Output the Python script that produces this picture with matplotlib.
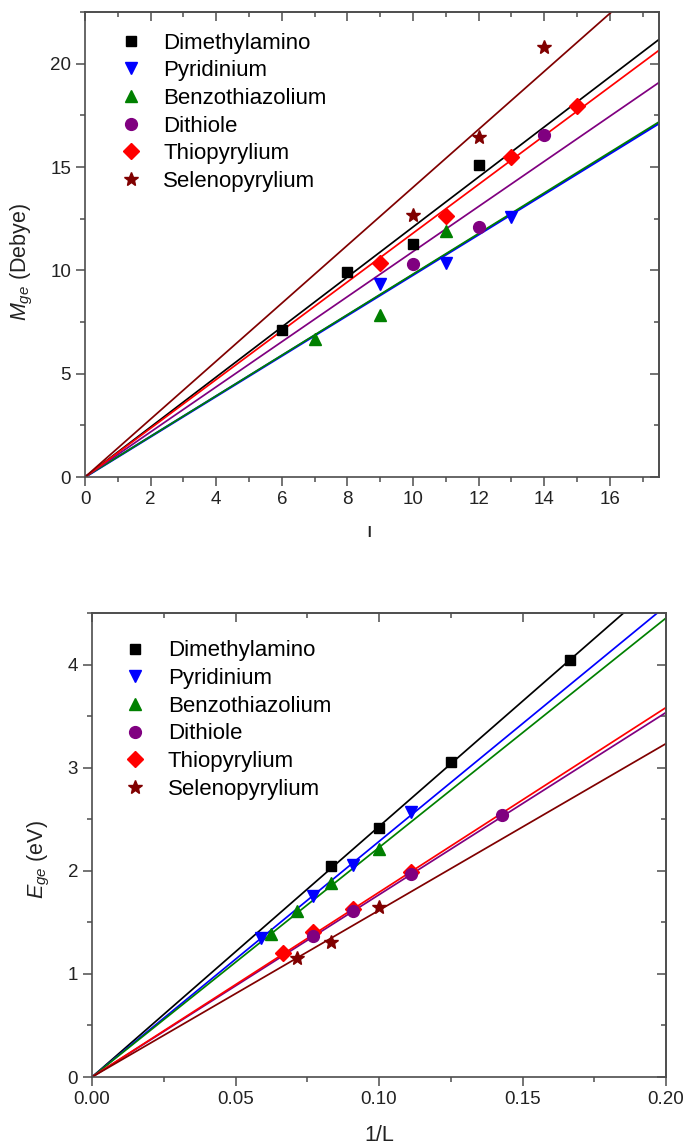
import matplotlib
matplotlib.use("Agg")
import matplotlib.pyplot as plt
import numpy as np
from matplotlib.ticker import MultipleLocator, FormatStrFormatter
from matplotlib.transforms import Bbox, TransformedBbox

plt.rcParams["font.family"] = ["Liberation Sans", "DejaVu Sans"]
plt.rcParams["mathtext.fontset"] = "custom"
plt.rcParams["mathtext.rm"] = "Liberation Sans"
plt.rcParams["mathtext.it"] = "Liberation Sans:italic"

# -- Data -------------------------------------------------------------------
names = ["Dimethylamino", "Pyridinium", "Benzothiazolium",
         "Dithiole", "Thiopyrylium", "Selenopyrylium"]
colors = ["#000000", "#0000ff", "#008000", "#800080", "#ff0000", "#800000"]
markers = ["s", "v", "^", "o", "D", "*"]
msizes = [7.5, 9, 9, 8.5, 8, 10]

# top panel: M_ge vs L
top_L = [
    [6, 8, 10, 12],
    [9, 11, 13],
    [7, 9, 11],
    [10, 12, 14],
    [9, 11, 13, 15],
    [10, 12, 14],
]
top_M = [
    [7.1, 9.9, 11.3, 15.1],
    [9.35, 10.35, 12.6],
    [6.7, 7.85, 11.9],
    [10.3, 12.1, 16.55],
    [10.35, 12.65, 15.5, 17.95],
    [12.7, 16.45, 20.8],
]
top_slopes = [1.210, 0.978, 0.982, 1.091, 1.180, 1.402]

# bottom panel: E_ge vs 1/L
bot_x = [
    [0.0833, 0.1, 0.125, 0.1667],
    [0.0588, 0.0769, 0.0909, 0.1111],
    [0.0625, 0.0714, 0.0833, 0.1],
    [0.0769, 0.0909, 0.1111, 0.1429],
    [0.0667, 0.0769, 0.0909, 0.1111],
    [0.0714, 0.0833, 0.1],
]
bot_E = [
    [2.05, 2.415, 3.055, 4.04],
    [1.35, 1.755, 2.06, 2.57],
    [1.39, 1.615, 1.88, 2.21],
    [1.37, 1.615, 1.97, 2.54],
    [1.20, 1.41, 1.63, 1.99],
    [1.15, 1.31, 1.65],
]
bot_slopes = [24.3, 22.85, 22.26, 17.68, 17.92, 16.17]

SPINE = "#4d4d4d"
TEXT = "#222222"
TICK_FS = 13.5
LABEL_FS = 15.5
LEGEND_FS = 16

fig = plt.figure(figsize=(6.85, 11.47), dpi=100)
ax1 = fig.add_axes([0.1241, 0.5841, 0.838, 0.4054])
ax2 = fig.add_axes([0.1343, 0.0610, 0.838, 0.4045])


def style_axes(ax, xmaj, xmin, ymaj, ymin):
    ax.xaxis.set_major_locator(MultipleLocator(xmaj))
    ax.xaxis.set_minor_locator(MultipleLocator(xmin))
    ax.yaxis.set_major_locator(MultipleLocator(ymaj))
    ax.yaxis.set_minor_locator(MultipleLocator(ymin))
    for sp in ax.spines.values():
        sp.set_color(SPINE)
        sp.set_linewidth(1.2)
    ax.tick_params(which="both", direction="out", color=SPINE, width=1.1,
                   labelsize=TICK_FS, labelcolor=TEXT)
    ax.tick_params(which="major", length=6.5)
    ax.tick_params(which="minor", length=3.5)
    # mirrored ticks pointing inward on top and right
    sx = ax.secondary_xaxis("top")
    sx.xaxis.set_major_locator(MultipleLocator(xmaj))
    sx.xaxis.set_minor_locator(MultipleLocator(xmin))
    sx.tick_params(which="both", direction="in", color=SPINE, width=1.1, labeltop=False)
    sx.tick_params(which="major", length=6.5)
    sx.tick_params(which="minor", length=3.5)
    sy = ax.secondary_yaxis("right")
    sy.yaxis.set_major_locator(MultipleLocator(ymaj))
    sy.yaxis.set_minor_locator(MultipleLocator(ymin))
    sy.tick_params(which="both", direction="in", color=SPINE, width=1.1, labelright=False)
    sy.tick_params(which="major", length=6.5)
    sy.tick_params(which="minor", length=3.5)
    for s in (sx, sy):
        for sp in s.spines.values():
            sp.set_color(SPINE)
            sp.set_linewidth(1.2)


# -- Top panel --------------------------------------------------------------
xmax1 = 17.5
xs = np.array([0, xmax1])
for i in range(6):
    lw = 1.7 if i == 1 else 1.25
    ax1.plot(xs, top_slopes[i] * xs, color=colors[i], lw=lw, zorder=2)
for i in range(6):
    ax1.plot(top_L[i], top_M[i], ls="none", marker=markers[i], ms=msizes[i],
             color=colors[i], label=names[i], zorder=3)
ax1.set_xlim(0, xmax1)
ax1.set_ylim(0, 22.5)
style_axes(ax1, 2, 1, 5, 2.5)
ax1.set_ylabel(r"$M_{ge}$ (Debye)", fontsize=LABEL_FS, color=TEXT)
ax1.yaxis.set_label_coords(-0.087, 0.462)
ax1.set_xlabel("L", fontsize=LABEL_FS, color=TEXT, labelpad=12.5)
# the reference image is cut just below the top of this label
clip = TransformedBbox(Bbox([[0, 1 - 537 / 1147], [1, 1]]), fig.transFigure)
ax1.xaxis.label.set_clip_box(clip)
ax1.xaxis.label.set_clip_on(True)
ax1.legend(loc="upper left", bbox_to_anchor=(0.060, 0.956), frameon=False,
           fontsize=LEGEND_FS, handlelength=1.0, handletextpad=0.96,
           labelspacing=0.30, borderpad=0, borderaxespad=0)

# -- Bottom panel -----------------------------------------------------------
xmax2 = 0.2
xs = np.array([0, xmax2])
for i in range(6):
    ax2.plot(xs, bot_slopes[i] * xs, color=colors[i], lw=1.25, zorder=2)
for i in range(6):
    z = 4 if names[i] == "Dithiole" else 3
    ax2.plot(bot_x[i], bot_E[i], ls="none", marker=markers[i], ms=msizes[i],
             color=colors[i], label=names[i], zorder=z)
ax2.set_xlim(0, xmax2)
ax2.set_ylim(0, 4.5)
style_axes(ax2, 0.05, 0.025, 1, 0.5)
ax2.xaxis.set_major_formatter(FormatStrFormatter("%.2f"))
ax2.set_ylabel(r"$E_{ge}$ (eV)", fontsize=LABEL_FS, color=TEXT)
ax2.yaxis.set_label_coords(-0.070, 0.468)
ax2.set_xlabel("1/L", fontsize=LABEL_FS, color=TEXT, labelpad=12)
ax2.legend(loc="upper left", bbox_to_anchor=(0.056, 0.941), frameon=False,
           fontsize=LEGEND_FS, handlelength=1.0, handletextpad=0.96,
           labelspacing=0.30, borderpad=0, borderaxespad=0)

fig.savefig("out.png", dpi=100)
